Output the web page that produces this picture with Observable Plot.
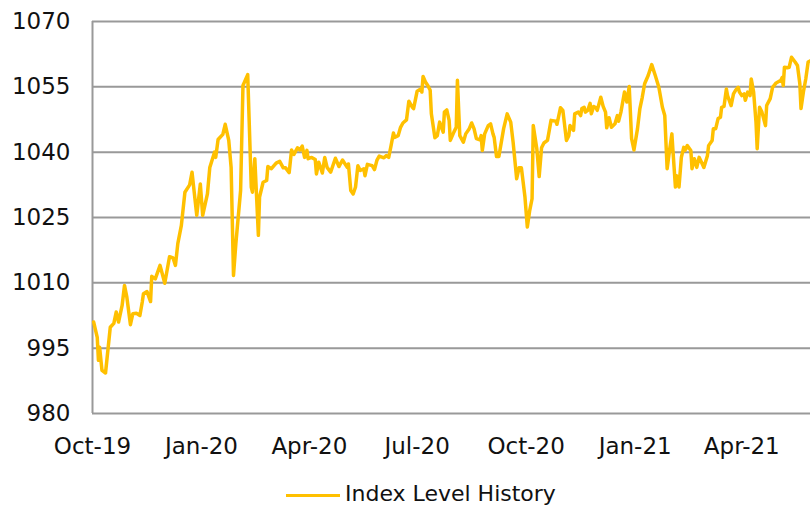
<!DOCTYPE html>
<html><head><meta charset="utf-8">
<script src="https://cdn.jsdelivr.net/npm/d3@7"></script>
<script src="https://cdn.jsdelivr.net/npm/@observablehq/plot@0.6"></script>
<style>
html,body{margin:0;padding:0;background:#fff;width:810px;height:508px;overflow:hidden;font-family:"DejaVu Sans",sans-serif;}
#chart{position:relative;width:810px;height:508px;}
#legend{position:absolute;left:286px;top:480px;display:flex;align-items:center;height:28px;font-size:22px;line-height:24px;color:#111;white-space:nowrap;}
#legend .swatch{width:54px;height:3px;background:#FFC000;margin-right:5px;margin-top:2px;}
</style></head>
<body><div id="chart"></div>
<script>
const seriesName = "Index Level History";
const yTicks = [980, 995, 1010, 1025, 1040, 1055, 1070];
const xTickDates = ["2019-10-01","2020-01-01","2020-04-01","2020-07-01","2020-10-01","2021-01-01","2021-04-01"];
const xDomain = ["2019-10-01","2021-05-29"];
const dates = [
"2019-10-02","2019-10-05","2019-10-06","2019-10-07","2019-10-09","2019-10-12","2019-10-16","2019-10-19","2019-10-21","2019-10-23",
"2019-10-26","2019-10-28","2019-10-30","2019-11-02","2019-11-04","2019-11-07","2019-11-10","2019-11-12","2019-11-13","2019-11-16",
"2019-11-19","2019-11-20","2019-11-23","2019-11-27","2019-12-01","2019-12-05","2019-12-08","2019-12-10","2019-12-12","2019-12-15",
"2019-12-18","2019-12-22","2019-12-24","2019-12-28","2019-12-31","2020-01-02","2020-01-06","2020-01-08","2020-01-12","2020-01-13",
"2020-01-15","2020-01-19","2020-01-21","2020-01-24","2020-01-26","2020-01-28","2020-01-30","2020-02-03","2020-02-05","2020-02-09",
"2020-02-12","2020-02-13","2020-02-15","2020-02-18","2020-02-19","2020-02-22","2020-02-25","2020-02-26","2020-02-29","2020-03-04",
"2020-03-07","2020-03-10","2020-03-12","2020-03-15","2020-03-17","2020-03-19","2020-03-22","2020-03-24","2020-03-26","2020-03-28",
"2020-03-30","2020-03-31","2020-04-03","2020-04-06","2020-04-07","2020-04-09","2020-04-12","2020-04-14","2020-04-16","2020-04-19",
"2020-04-23","2020-04-26","2020-04-29","2020-05-03","2020-05-04","2020-05-06","2020-05-08","2020-05-10","2020-05-12","2020-05-14",
"2020-05-17","2020-05-18","2020-05-20","2020-05-24","2020-05-26","2020-05-28","2020-05-30","2020-06-03","2020-06-05","2020-06-07",
"2020-06-09","2020-06-11","2020-06-12","2020-06-15","2020-06-17","2020-06-19","2020-06-22","2020-06-24","2020-06-27","2020-06-28",
"2020-07-01","2020-07-04","2020-07-05","2020-07-06","2020-07-08","2020-07-10","2020-07-12","2020-07-13","2020-07-16","2020-07-18",
"2020-07-20","2020-07-23","2020-07-24","2020-07-26","2020-07-28","2020-07-29","2020-08-01","2020-08-03","2020-08-04","2020-08-06",
"2020-08-09","2020-08-11","2020-08-14","2020-08-16","2020-08-18","2020-08-20","2020-08-23","2020-08-24","2020-08-25","2020-08-27",
"2020-08-30","2020-09-01","2020-09-03","2020-09-04","2020-09-06","2020-09-08","2020-09-12","2020-09-15","2020-09-18","2020-09-20",
"2020-09-23","2020-09-25","2020-09-27","2020-09-30","2020-10-02","2020-10-04","2020-10-06","2020-10-07","2020-10-10","2020-10-12",
"2020-10-14","2020-10-16","2020-10-19","2020-10-20","2020-10-22","2020-10-26","2020-10-27","2020-10-30","2020-11-01","2020-11-04",
"2020-11-06","2020-11-07","2020-11-10","2020-11-11","2020-11-14","2020-11-16","2020-11-17","2020-11-19","2020-11-20","2020-11-22",
"2020-11-24","2020-11-25","2020-11-27","2020-11-29","2020-11-30","2020-12-03","2020-12-05","2020-12-07","2020-12-08","2020-12-10",
"2020-12-12","2020-12-15","2020-12-17","2020-12-18","2020-12-20","2020-12-23","2020-12-25","2020-12-27","2020-12-29","2020-12-31",
"2021-01-03","2021-01-05","2021-01-07","2021-01-09","2021-01-12","2021-01-15","2021-01-18","2021-01-21","2021-01-24","2021-01-26",
"2021-01-28","2021-01-30","2021-02-01","2021-02-02","2021-02-04","2021-02-05","2021-02-07","2021-02-09","2021-02-11","2021-02-12",
"2021-02-14","2021-02-17","2021-02-18","2021-02-20","2021-02-22","2021-02-24","2021-02-26","2021-02-28","2021-03-03","2021-03-04",
"2021-03-07","2021-03-08","2021-03-10","2021-03-12","2021-03-14","2021-03-15","2021-03-17","2021-03-19","2021-03-20","2021-03-23",
"2021-03-25","2021-03-27","2021-03-29","2021-03-30","2021-04-01","2021-04-03","2021-04-04","2021-04-06","2021-04-08","2021-04-09",
"2021-04-11","2021-04-13","2021-04-14","2021-04-16","2021-04-18","2021-04-21","2021-04-22","2021-04-25","2021-04-27","2021-04-30",
"2021-05-04","2021-05-05","2021-05-06","2021-05-07","2021-05-10","2021-05-11","2021-05-13","2021-05-16","2021-05-18","2021-05-20",
"2021-05-21","2021-05-23","2021-05-25","2021-05-27","2021-05-29"
];
const values = [
1001.0,997.5,992.2,995.2,989.9,989.3,999.8,1000.7,1003.3,1001.0,
1004.8,1009.4,1006.7,1000.4,1002.9,1003.0,1002.5,1005.6,1007.5,1008.0,
1005.7,1011.5,1010.9,1014.0,1009.9,1016.0,1015.7,1014.0,1019.0,1023.2,
1030.8,1032.5,1035.4,1025.5,1032.7,1025.5,1030.4,1036.5,1040.0,1038.8,
1042.9,1044.1,1046.4,1042.7,1036.5,1011.7,1019.0,1031.2,1055.3,1057.8,
1032.0,1030.8,1038.5,1020.9,1029.7,1033.1,1033.5,1036.7,1036.2,1037.5,
1037.9,1036.4,1036.4,1035.3,1040.5,1039.5,1041.0,1040.5,1041.4,1038.8,
1040.4,1038.5,1038.8,1038.3,1035.0,1037.7,1035.2,1038.8,1036.5,1035.4,
1038.6,1036.7,1038.2,1036.5,1037.3,1031.2,1030.4,1032.0,1036.9,1035.8,
1036.2,1034.6,1037.2,1036.9,1036.0,1038.1,1039.1,1038.7,1039.2,1038.8,
1041.5,1044.4,1043.4,1043.8,1045.7,1046.7,1047.4,1051.7,1050.3,1050.0,
1054.0,1054.5,1053.8,1057.4,1056.1,1055.3,1054.2,1048.8,1043.3,1043.8,
1046.9,1044.6,1049.2,1049.7,1047.3,1042.7,1044.6,1045.7,1056.5,1043.8,
1042.3,1044.2,1045.4,1046.7,1045.4,1043.1,1042.8,1043.8,1040.4,1044.2,
1046.1,1046.5,1044.2,1043.4,1039.0,1039.0,1045.4,1048.8,1046.9,1042.3,
1033.9,1036.4,1036.4,1029.7,1022.8,1026.6,1029.3,1046.1,1040.8,1034.4,
1041.0,1042.1,1042.7,1044.2,1047.3,1047.1,1046.4,1050.2,1049.6,1042.7,
1043.8,1046.1,1045.0,1048.8,1049.2,1048.4,1050.0,1050.3,1049.2,1049.6,
1051.2,1048.8,1050.5,1050.2,1049.6,1052.6,1050.5,1049.2,1045.6,1047.9,
1045.7,1046.5,1048.4,1047.1,1049.2,1053.8,1051.5,1055.1,1043.1,1040.5,
1045.4,1050.0,1052.6,1055.7,1057.6,1060.1,1057.6,1054.9,1050.3,1048.4,
1036.2,1040.4,1044.2,1040.0,1032.0,1034.6,1032.0,1038.8,1041.1,1040.4,
1041.5,1040.4,1036.2,1038.5,1036.5,1038.8,1037.7,1036.5,1039.2,1041.5,
1042.7,1045.4,1045.4,1047.7,1048.0,1050.3,1050.5,1054.5,1053.0,1050.7,
1053.4,1054.3,1054.9,1053.8,1053.0,1053.4,1051.9,1053.8,1053.0,1056.8,
1053.8,1046.9,1040.8,1050.3,1049.2,1046.1,1050.7,1052.3,1054.9,1055.9,
1056.5,1057.1,1055.3,1059.5,1059.4,1059.5,1061.8,1060.7,1059.9,1055.7,
1050.0,1053.8,1056.8,1060.7,1061.0
];

const parse = d3.utcParse("%Y-%m-%d");
const data = dates.map((d, i) => ({date: parse(d), value: values[i]}));
const chart = Plot.plot({
  width: 810, height: 470,
  marginLeft: 92, marginRight: 0, marginTop: 21, marginBottom: 57,
  style: {fontFamily: '"DejaVu Sans", sans-serif', fontSize: "23px", color: "#111", background: "white"},
  x: {type: "utc", domain: xDomain.map(parse), ticks: xTickDates.map(parse), tickFormat: d3.utcFormat("%b-%y"), tickSize: 0, tickPadding: 24, label: null},
  y: {domain: [980, 1070], ticks: yTicks, tickFormat: d3.format("d"), tickSize: 0, tickPadding: 22, label: null},
  marks: [
    Plot.gridY(yTicks, {stroke: "#999", strokeOpacity: 1, strokeWidth: 2}),
    Plot.ruleX([parse(xDomain[0])], {stroke: "#999", strokeWidth: 2}),
    Plot.lineY(data, {x: "date", y: "value", stroke: "#FFC000", strokeWidth: 3.5, strokeLinejoin: "round"})
  ]
});
const root = document.getElementById("chart");
root.appendChild(chart);
const legend = document.createElement("div");
legend.id = "legend";
legend.innerHTML = '<span class="swatch"></span><span></span>';
legend.lastChild.textContent = seriesName;
root.appendChild(legend);
</script>
</body></html>
